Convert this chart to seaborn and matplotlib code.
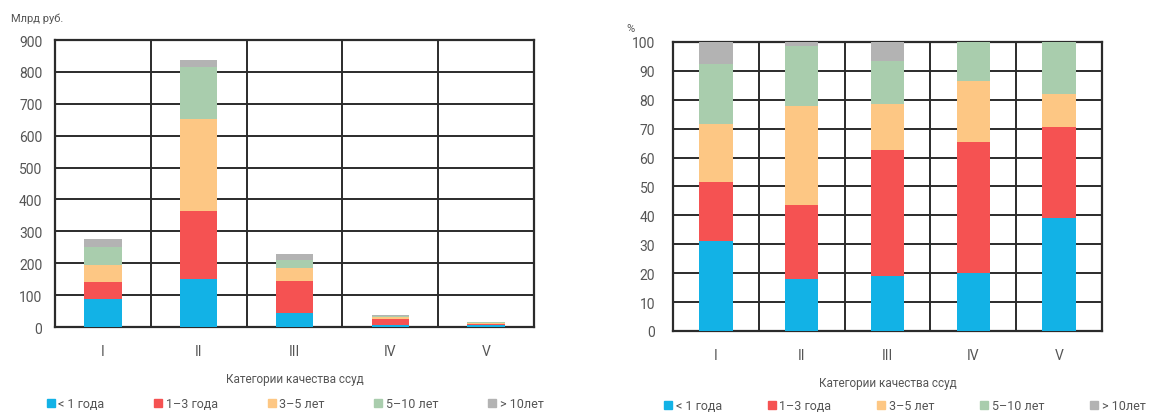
import pandas as pd
import matplotlib
matplotlib.use("Agg")
import matplotlib.pyplot as plt
from matplotlib.lines import Line2D
import seaborn as sns

# ── Данные ────────────────────────────────────────────────────────────────────

categories = ["I", "II", "III", "IV", "V"]
groups = ["< 1 года", "1–3 года", "3–5 лет", "5–10 лет", "> 10лет"]
legend_labels = ["< 1 года", "1–3 года", "3–5 лет", "5–10 лет", "> 10лет"]

# млрд руб.
abs_lt1 = [88, 151, 45, 7, 6]
abs_1_3 = [53, 213, 98, 17, 4.5]
abs_3_5 = [55, 288, 42, 7, 1.5]
abs_5_10 = [55, 162, 24, 5, 2.5]
abs_gt10 = [24, 23, 21, 1, 0.5]

# %
pct_lt1 = [31, 18, 19, 20, 39]
pct_1_3 = [20.5, 25.5, 43.5, 45.5, 31.5]
pct_3_5 = [20, 34.5, 16, 21, 11.5]
pct_5_10 = [21, 20.5, 15, 13.5, 18]
pct_gt10 = [7.5, 1.5, 6.5, 0, 0]

COLORS = ["#12B2E6", "#F55252", "#FDC784", "#A9CDAD", "#B3B3B3"]
GRID = "#2b2b2b"
TXT = "#555555"

sns.set_style("white")
plt.rcParams["font.family"] = ["Roboto", "DejaVu Sans"]


def long_table(series):
    rows = []
    for g, vals in zip(groups, series):
        for c, v in zip(categories, vals):
            rows.append({"cat": c, "group": g, "value": v})
    df = pd.DataFrame(rows)
    df["group"] = pd.Categorical(df["group"], groups, ordered=True)
    df = df.sort_values(["cat", "group"])
    df["cum"] = df.groupby("cat")["value"].cumsum()
    return df


def draw(ax, df, ymax, step, ypad):
    # накопленные суммы рисуем сверху вниз, нижние слои перекрывают верхние
    for g, col in reversed(list(zip(groups, COLORS))):
        sub = df[df["group"] == g]
        sns.barplot(data=sub, x="cat", y="cum", order=categories, color=col,
                    width=0.39, ax=ax, linewidth=0, saturation=1, zorder=3)
    ax.set_ylim(0, ymax)
    ax.set_xlim(-0.5, 4.5)
    ax.set_yticks(range(0, ymax + 1, step))
    ax.set_xticks([0.5, 1.5, 2.5, 3.5], minor=True)
    ax.grid(True, which="major", axis="y", color=GRID, lw=1.4, zorder=0)
    ax.grid(True, which="minor", axis="x", color=GRID, lw=1.4, zorder=0)
    ax.set_axisbelow(True)
    for s in ax.spines.values():
        s.set_color(GRID)
        s.set_linewidth(1.6)
        s.set_visible(True)
    ax.tick_params(length=0, which="both", labelsize=10, colors=TXT)
    ax.tick_params(axis="y", pad=ypad)
    ax.tick_params(axis="x", pad=12)
    ax.set_xlabel("Категории качества ссуд", fontsize=8.5, color=TXT, labelpad=10)
    ax.set_ylabel("")


fig = plt.figure(figsize=(11.67, 4.14), dpi=100)
ax1 = fig.add_axes([0.0471, 0.2077, 0.4105, 0.6932])
ax2 = fig.add_axes([0.5767, 0.1981, 0.3676, 0.6981])

draw(ax1, long_table([abs_lt1, abs_1_3, abs_3_5, abs_5_10, abs_gt10]), 900, 100, 9)
draw(ax2, long_table([pct_lt1, pct_1_3, pct_3_5, pct_5_10, pct_gt10]), 100, 10, 13)

fig.text(0.009, 0.955, "Млрд руб.", fontsize=8, color=TXT, va="center")
fig.text(0.537, 0.93, "%", fontsize=8, color=TXT, va="center")

handles = [Line2D([], [], marker="s", ls="", color=c, markersize=6) for c in COLORS]
for x0, y0, sp in [(0.034, 0.022, 3.8), (0.563, 0.018, 3.5)]:
    fig.legend(handles, legend_labels, loc="center left", bbox_to_anchor=(x0, y0),
               ncol=5, frameon=False, fontsize=9, labelcolor=TXT,
               handletextpad=0.1, columnspacing=sp, handlelength=1.0,
               borderaxespad=0)

fig.savefig("out.png", dpi=100)
